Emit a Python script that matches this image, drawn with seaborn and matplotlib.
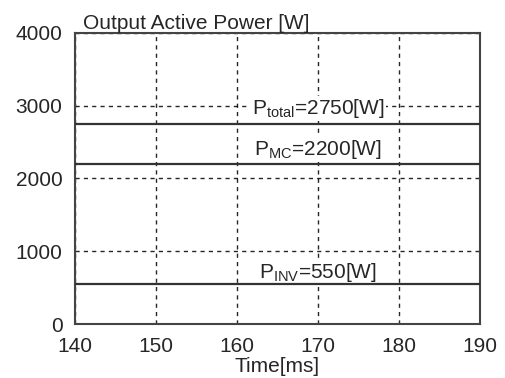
import matplotlib
matplotlib.use("Agg")
import matplotlib.pyplot as plt
import seaborn as sns
import pandas as pd

time_ms = [140, 190]
p_total = [2750, 2750]
p_mc = [2200, 2200]
p_inv = [550, 550]
labels = [r"P$_{\mathrm{total}}$=2750[W]", r"P$_{\mathrm{MC}}$=2200[W]", r"P$_{\mathrm{INV}}$=550[W]"]
label_y = [2887, 2323, 628]
xticks = [140, 150, 160, 170, 180, 190]
yticks = [0, 1000, 2000, 3000, 4000]

sns.set_theme(style="white")
plt.rcParams['font.family'] = ['Liberation Sans', 'DejaVu Sans']
plt.rcParams['mathtext.fontset'] = 'custom'
plt.rcParams['mathtext.rm'] = 'Liberation Sans'
plt.rcParams['mathtext.it'] = 'Liberation Sans'

fig = plt.figure(figsize=(5.05, 3.78), dpi=100)
ax = fig.add_axes([75/505, 1-324/378, 405/505, 291/378])

df = pd.concat([
    pd.DataFrame({"t": time_ms, "p": p_total, "s": "total"}),
    pd.DataFrame({"t": time_ms, "p": p_mc, "s": "mc"}),
    pd.DataFrame({"t": time_ms, "p": p_inv, "s": "inv"}),
])
for name, d in df.groupby("s", sort=False):
    sns.lineplot(data=d, x="t", y="p", ax=ax, color="#333333", linewidth=1.6, zorder=3)

ax.set_xlim(140, 190)
ax.set_ylim(0, 4000)
ax.set_xticks(xticks)
ax.set_yticks(yticks)
ax.tick_params(axis='y', labelsize=15, length=0, pad=9)
ax.tick_params(axis='x', labelsize=15, length=0, pad=9)
ax.grid(True, color="black", linestyle=(0, (3, 3)), linewidth=1.0, alpha=0.85)
ax.set_axisbelow(True)
for s in ax.spines.values():
    s.set_color("#444444")
    s.set_linewidth(1.5)
ax.set_xlabel("Time[ms]", fontsize=15, labelpad=1)
ax.set_ylabel("")
ax.text(0.02, 1.0, "Output Active Power [W]", transform=ax.transAxes, fontsize=15,
        ha="left", va="bottom")

for lab, yy in zip(labels, label_y):
    ax.text(170, yy, lab, fontsize=15, ha="center", va="baseline", zorder=2,
            bbox=dict(facecolor="white", edgecolor="none", pad=1))

fig.savefig("out.png", dpi=100)
